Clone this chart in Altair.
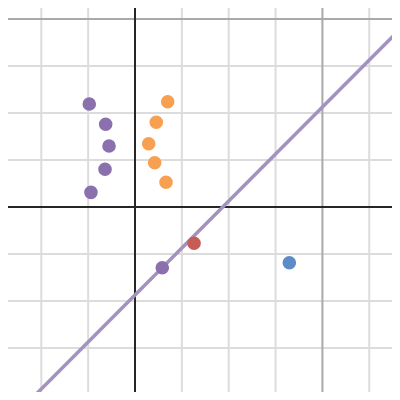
import altair as alt
import pandas as pd

# scatter data
purple_x = [-0.488, -0.313, -0.277, -0.320, -0.470, 0.291]
purple_y = [1.096, 0.880, 0.649, 0.401, 0.156, -0.646]
orange_x = [0.349, 0.227, 0.146, 0.210, 0.331]
orange_y = [1.120, 0.901, 0.673, 0.471, 0.263]
red_x = [0.630]
red_y = [-0.386]
blue_x = [1.647]
blue_y = [-0.593]

# fitted line end points
line_x = [-1.6, 3.0]
line_y = [-2.536, 2.064]

# grid
minor_x = [-1.0, -0.5, 0.5, 1.0, 1.5, 2.5]
minor_y = [1.5, 1.0, 0.5, -0.5, -1.0, -1.5]
major_x = [2.0]
major_y = [2.0, -2.0]

XD = [-1.3554, 2.7428]
YD = [-1.968, 2.117]

xs = alt.Scale(domain=XD, nice=False, zero=False)
ys = alt.Scale(domain=YD, nice=False, zero=False)

def rules_v(vals, color, w):
    return alt.Chart(pd.DataFrame({"v": vals})).mark_rule(color=color, strokeWidth=w, clip=True).encode(
        x=alt.X("v:Q", scale=xs, axis=None))

def rules_h(vals, color, w):
    return alt.Chart(pd.DataFrame({"v": vals})).mark_rule(color=color, strokeWidth=w, clip=True).encode(
        y=alt.Y("v:Q", scale=ys, axis=None))

def pts(xv, yv, color):
    return alt.Chart(pd.DataFrame({"x": xv, "y": yv})).mark_circle(
        size=185, color=color, opacity=1).encode(
        x=alt.X("x:Q", scale=xs, axis=None), y=alt.Y("y:Q", scale=ys, axis=None))

minor_col = "#dcdcdc"
major_col = "#a9a9a9"
axis_col = "#262626"

line = alt.Chart(pd.DataFrame({"x": line_x, "y": line_y})).mark_line(
    color="#a391c2", strokeWidth=3.5, clip=True).encode(
    x=alt.X("x:Q", scale=xs, axis=None), y=alt.Y("y:Q", scale=ys, axis=None))

chart = alt.layer(
    rules_v(minor_x, minor_col, 2),
    rules_h(minor_y, minor_col, 2),
    rules_v(major_x, major_col, 2),
    rules_h(major_y, major_col, 2),
    rules_v([0.0], axis_col, 2),
    rules_h([0.0], axis_col, 2),
    line,
    pts(purple_x, purple_y, "#8b70ae"),
    pts(orange_x, orange_y, "#f7a052"),
    pts(red_x, red_y, "#c75b56"),
    pts(blue_x, blue_y, "#5c8bc7"),
).properties(
    width=384, height=384, padding=0,
    autosize=alt.AutoSizeParams(type="none"),
).configure_view(stroke=None)

chart.save("out.html", embed_options={"renderer": "svg", "actions": False})
